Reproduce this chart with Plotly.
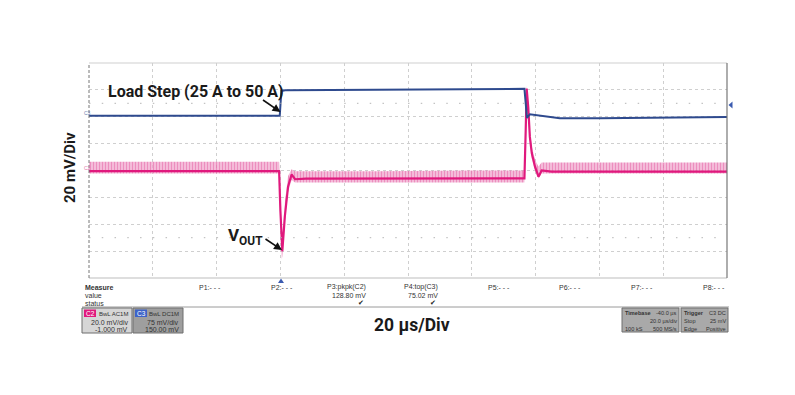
import plotly.graph_objects as go

# ---------------- data (read from the scope capture) ----------------
# C2 (VOUT, AC coupled, 20 mV/div) - time in µs, values in mV
pink_t  = [-60, -0.4, 0.0, 0.4, 0.6, 1.4, 2.4, 3.5, 4.6, 8, 30, 60, 76.5, 76.9, 77.2, 77.7, 78.2, 78.8, 79.8, 80.9, 81.9, 85, 140]
pink_mv = [-0.5, -0.5, -30, -59, -60, -34, -12, -3, -6.5, -6, -6, -5.8, -5.8, 30, 61, 47, 25, 13, 3, -4.6, 0, -0.8, -0.8]
# light-pink noise envelope around the C2 trace (upper / lower), mV
pink_hi = [6.5, 6.5, -20, -50, -52, -24, -4, 1, -0.5, -0.5, -0.5, 0, 0, 34, 63, 50, 30, 18, 8, 3, 6, 6, 6]
pink_lo = [-2.3, -2.3, -34, -66, -64, -38, -16, -7, -9, -9, -9, -9, -9, 20, 57, 43, 21, 9, 0, -6, -2.3, -2.3, -2.3]
# C3 (load current probe, DC coupled, 75 mV/div) - time in µs, values in mV
blue_t  = [-60, -0.2, 0.3, 1.5, 76.5, 76.9, 77.3, 78.2, 82.9, 87.6, 100, 140]
blue_mv = [153, 153, 222, 224, 228, 190, 147, 157, 152, 146, 146, 149]

# axis scales
time_range = [-60, 140]      # 20 µs/div, 10 divisions
c2_range = [-80, 80]         # 20 mV/div, 8 divisions
c3_range = [-300, 300]       # 75 mV/div, 8 divisions

# measurement panel text
p_labels = ["P1:- - -", "P2:- - -", "P3:pkpk(C2)", "P4:top(C3)", "P5:- - -", "P6:- - -", "P7:- - -", "P8:- - -"]
p_values = ["", "", "128.80 mV", "75.02 mV", "", "", "", ""]
p_status = ["", "", "✔", "✔", "", "", "", ""]

# ---------------- figure ----------------
W, H = 795, 395
L, R, T, B = 89, 727, 63, 278
OFF = 8  # page body margin of the html page


def px(x):
    return (x - L) / (R - L)


def py(y):
    return (B - y) / (B - T)


PINK = "#e0197d"
BLUE = "#2e4a8e"

fig = go.Figure()

# noise envelope of C2
fig.add_trace(go.Scatter(
    x=pink_t + pink_t[::-1], y=pink_hi + pink_lo[::-1],
    fill="toself", mode="none",
    fillcolor="rgba(235,120,180,0.6)",
    fillpattern=dict(shape="|", fgcolor="rgba(222,60,140,0.75)", bgcolor="rgba(242,165,205,0.7)",
                     size=3, solidity=0.4),
    hoverinfo="skip", showlegend=False))
fig.add_trace(go.Scatter(x=pink_t, y=pink_mv, mode="lines",
                         line=dict(color=PINK, width=2.2), showlegend=False))
fig.add_trace(go.Scatter(x=blue_t, y=blue_mv, mode="lines", yaxis="y2",
                         line=dict(color=BLUE, width=2), showlegend=False))

grid = dict(showgrid=True, gridcolor="#cfcfcf", griddash="dot", gridwidth=1,
            zeroline=False, showticklabels=False, ticks="", showline=False)
fig.update_layout(
    width=W, height=H,
    margin=dict(l=L - OFF, r=W - R + OFF, t=T - OFF, b=H - B + OFF),
    paper_bgcolor="white", plot_bgcolor="white",
    xaxis=dict(range=time_range, dtick=20, **grid),
    yaxis=dict(range=c2_range, dtick=20, **grid),
    yaxis2=dict(range=c3_range, overlaying="y", visible=False),
    font=dict(family="Roboto, Liberation Sans, sans-serif", color="#222"),
)

shapes = []
# plot frame
shapes.append(dict(type="line", xref="paper", yref="paper", x0=0, x1=1, y0=1, y1=1,
                   line=dict(color="#cfcfcf", width=1)))
shapes.append(dict(type="line", xref="paper", yref="paper", x0=0, x1=1, y0=0, y1=0,
                   line=dict(color="#bdbdbd", width=1)))
shapes.append(dict(type="line", xref="paper", yref="paper", x0=0, x1=0, y0=0, y1=1,
                   line=dict(color="#777", width=1, dash="3px,2px")))
shapes.append(dict(type="line", xref="paper", yref="paper", x0=1, x1=1, y0=0, y1=1,
                   line=dict(color="#777", width=1.2)))
# dotted marker rows at +/-2.5 div
for yv in (50, -50):
    shapes.append(dict(type="line", xref="x", yref="y", x0=time_range[0], x1=time_range[1], y0=yv, y1=yv,
                       line=dict(color="#b5b5b5", width=1, dash="1.5px,11.26px")))
# measurement separator
shapes.append(dict(type="line", xref="paper", yref="paper", x0=px(82), x1=px(729), y0=py(307), y1=py(307),
                   line=dict(color="#9a9a9a", width=1)))
# trigger position marker (bottom) and trigger level marker (right)
shapes.append(dict(type="path", xref="paper", yref="paper",
                   path=f"M {px(278)} {py(283)} L {px(284)} {py(283)} L {px(281)} {py(278.5)} Z",
                   fillcolor="#3b5bb0", line=dict(width=0)))
shapes.append(dict(type="path", xref="paper", yref="paper",
                   path=f"M {px(732.5)} {py(101.5)} L {px(732.5)} {py(108.5)} L {px(728.5)} {py(105)} Z",
                   fillcolor="#3b5bb0", line=dict(width=0)))


def box(x0, x1, y0, y1, fill):
    shapes.append(dict(type="rect", xref="paper", yref="paper", x0=px(x0), x1=px(x1), y0=py(y1), y1=py(y0),
                       fillcolor=fill, line=dict(color="#6e6e6e", width=1)))


box(82, 132, 308, 333, "#d6d6d6")
box(133, 183, 308, 333, "#9e9e9e")
box(622, 679, 308, 332, "#a9a9a9")
box(681, 728, 308, 332, "#a9a9a9")
shapes.append(dict(type="rect", xref="paper", yref="paper", x0=px(84), x1=px(96), y0=py(317), y1=py(309.5),
                   fillcolor=PINK, line=dict(width=0)))
shapes.append(dict(type="rect", xref="paper", yref="paper", x0=px(135), x1=px(147), y0=py(317), y1=py(309.5),
                   fillcolor="#3d63c8", line=dict(width=0)))
fig.update_layout(shapes=shapes)

ann = []


def txt(x, y, s, size=7, xanchor="left", color="#333", family="Liberation Sans, Arial, sans-serif", **kw):
    ann.append(dict(x=px(x), y=py(y), xref="paper", yref="paper", text=s, showarrow=False,
                    xanchor=xanchor, yanchor="middle", font=dict(size=size, color=color, family=family), **kw))


BOLD = "Roboto, Inter, sans-serif"
txt(106, 91, "<b>Load Step (25 A to 50 A)</b>", size=16, color="#1a1a1a", family=BOLD)
txt(226, 236, "<b>V<sub>OUT</sub></b>", size=17, color="#1a1a1a", family=BOLD)
txt(70, 168, "<b>20 mV/Div</b>", size=15, xanchor="center", color="#1a1a1a", family=BOLD, textangle=-90)
txt(412, 325, "<b>20 µs/Div</b>", size=17.5, xanchor="center", color="#1a1a1a", family=BOLD)

# arrows
ann.append(dict(x=px(280.5), y=py(112), xref="paper", yref="paper", ax=-19, ay=-13, text="",
                showarrow=True, arrowhead=2, arrowsize=1, arrowwidth=1.6, arrowcolor="#111"))
ann.append(dict(x=px(282), y=py(250), xref="paper", yref="paper", ax=-18, ay=-12, text="",
                showarrow=True, arrowhead=2, arrowsize=1, arrowwidth=1.6, arrowcolor="#111"))

# channel ground markers
txt(82, 113, "C3", size=5, color="#6f7fb0")
txt(82, 168, "C2", size=5, color="#e079ad")

# measurement panel
txt(83, 287, "<b>Measure</b>", size=7)
txt(83, 295, "value", size=7)
txt(83, 303, "status", size=7)
p_right = [223, 295, 368, 440, 512, 583, 655, 727]
for xr, lab, val, st in zip(p_right, p_labels, p_values, p_status):
    txt(xr, 287, lab, size=7, xanchor="right")
    if val:
        txt(xr, 295, val, size=7, xanchor="right")
    if st:
        txt(xr - 2, 303, st, size=7, xanchor="right", color="#222", family="DejaVu Sans")

# channel boxes
txt(90, 313.5, "C2", size=6.5, xanchor="center", color="white")
txt(130, 313.5, "BwL AC1M", size=6, xanchor="right")
txt(130, 322, "20.0 mV/div", size=7, xanchor="right")
txt(130, 329, "-1.000 mV", size=7, xanchor="right")
txt(141, 313.5, "C3", size=6.5, xanchor="center", color="white")
txt(181, 313.5, "BwL DC1M", size=6, xanchor="right")
txt(181, 322, "75 mV/div", size=7, xanchor="right")
txt(181, 329, "150.00 mV", size=7, xanchor="right")
# timebase / trigger boxes
SM = 5.6
txt(623, 313, "<b>Timebase</b>", size=SM)
txt(678.5, 313, "-40.0 µs", size=SM, xanchor="right")
txt(678.5, 321, "20.0 µs/div", size=SM, xanchor="right")
txt(623, 328.5, "100 kS", size=SM)
txt(678.5, 328.5, "500 MS/s", size=SM, xanchor="right")
txt(682, 313, "<b>Trigger</b>", size=SM)
txt(727.5, 313, "C3 DC", size=SM, xanchor="right")
txt(682, 321, "Stop", size=SM)
txt(727.5, 321, "25 mV", size=SM, xanchor="right")
txt(682, 328.5, "Edge", size=SM)
txt(727.5, 328.5, "Positive", size=SM, xanchor="right")

fig.update_layout(annotations=ann)
fig.write_html("out.html")
